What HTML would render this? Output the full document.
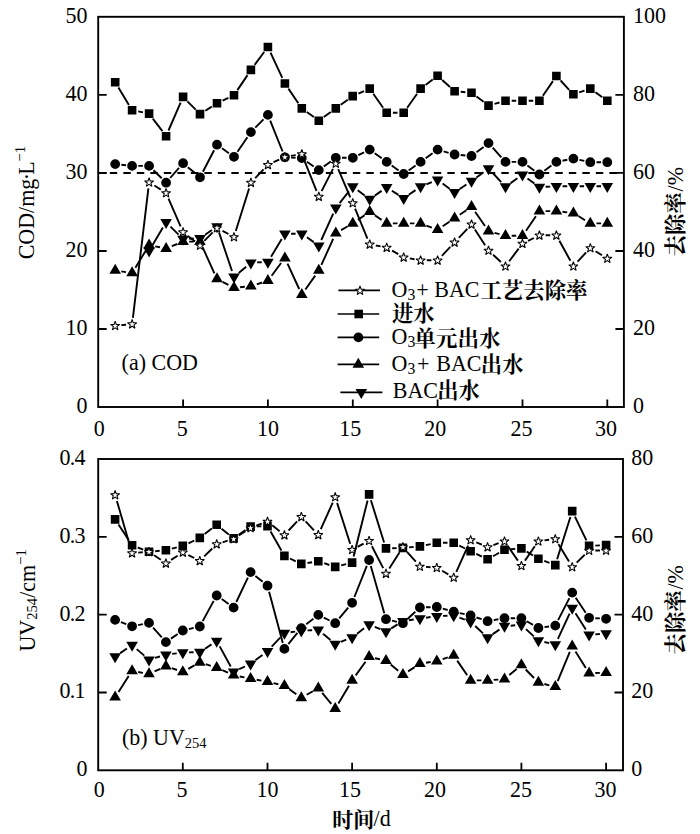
<!DOCTYPE html>
<html><head><meta charset="utf-8"><title>COD and UV254 removal</title>
<style>
html,body{margin:0;padding:0;background:#fff}
svg{display:block}
text{font-family:"Liberation Serif","Noto Serif CJK SC",serif;fill:#000}
</style></head><body>
<svg width="700" height="834" viewBox="0 0 700 834">
<rect width="700" height="834" fill="#fff"/>
<rect x="98.2" y="16.8" width="525.7" height="390.2" fill="none" stroke="#000" stroke-width="1.90"/>
<rect x="98.2" y="459.0" width="524.8" height="311.3" fill="none" stroke="#000" stroke-width="1.90"/>
<path d="M98.2 94.8h8.5M623.9 94.8h-8.5M98.2 172.9h8.5M623.9 172.9h-8.5M98.2 251.0h8.5M623.9 251.0h-8.5M98.2 329.0h8.5M623.9 329.0h-8.5M183.1 407.1v-7.5M267.9 407.1v-7.5M352.8 407.1v-7.5M437.6 407.1v-7.5M522.5 407.1v-7.5M607.3 407.1v-7.5" fill="none" stroke="#000" stroke-width="1.8"/>
<path d="M98.2 536.8h8.5M623.0 536.8h-8.5M98.2 614.6h8.5M623.0 614.6h-8.5M98.2 692.5h8.5M623.0 692.5h-8.5M182.8 770.3v-7.5M267.5 770.3v-7.5M352.1 770.3v-7.5M436.8 770.3v-7.5M521.4 770.3v-7.5M606.1 770.3v-7.5" fill="none" stroke="#000" stroke-width="1.8"/>
<path d="M98.2 173.1H106.4M109.85 173.1h7.4M123.35 173.1h7.4M136.85 173.1h7.4M150.35 173.1h7.4M163.85 173.1h7.4M177.35 173.1h7.4M190.85 173.1h7.4M204.35 173.1h7.4M217.85 173.1h7.4M231.35 173.1h7.4M244.85 173.1h7.4M258.35 173.1h7.4M271.85 173.1h7.4M285.35 173.1h7.4M298.85 173.1h7.4M312.35 173.1h7.4M325.85 173.1h7.4M339.35 173.1h7.4M352.85 173.1h7.4M366.35 173.1h7.4M379.85 173.1h7.4M393.35 173.1h7.4M406.85 173.1h7.4M420.35 173.1h7.4M433.85 173.1h7.4M447.35 173.1h7.4M460.85 173.1h7.4M474.35 173.1h7.4M487.85 173.1h7.4M501.35 173.1h7.4M514.85 173.1h7.4M528.35 173.1h7.4M541.85 173.1h7.4M555.35 173.1h7.4M568.85 173.1h7.4M582.35 173.1h7.4M595.85 173.1h7.4M609.35 173.1h7.4" fill="none" stroke="#000" stroke-width="2"/>
<path d="M118.4 87.5L128.9 104.9M138.2 111.4L143.0 112.4M152.8 118.6L162.4 131.2M168.5 130.5L180.6 102.6M187.4 101.3L195.7 109.7M205.3 110.8L211.8 106.6M222.6 100.7L228.4 97.9M237.4 90.1L247.5 75.1M254.6 64.9L264.2 52.0M270.5 52.6L282.3 77.9M288.4 88.6L298.3 103.3M306.8 112.1L313.8 117.1M323.8 117.1L330.8 112.1M340.8 104.8L347.7 99.7M358.4 93.6L364.0 91.1M373.3 93.7L383.1 107.7M392.9 112.8L397.5 112.8M407.2 107.7L417.1 93.7M425.6 84.9L432.7 79.5M442.2 80.0L450.0 87.0M460.7 91.7L465.4 92.2M476.5 96.5L483.6 101.8M494.5 103.9L499.5 102.5M511.7 100.8L516.2 100.8M528.7 100.8L533.2 100.8M542.9 95.7L552.9 81.1M560.6 80.5L569.1 89.8M579.2 92.3L584.5 90.6M595.4 92.2L602.3 97.2" fill="none" stroke="#000" stroke-width="1.90"/>
<path d="M110.9 77.9h8.6v8.6h-8.6zM127.8 105.9h8.6v8.6h-8.6zM144.8 109.3h8.6v8.6h-8.6zM161.8 131.9h8.6v8.6h-8.6zM178.8 92.6h8.6v8.6h-8.6zM195.7 109.8h8.6v8.6h-8.6zM212.7 99.0h8.6v8.6h-8.6zM229.7 91.0h8.6v8.6h-8.6zM246.6 65.6h8.6v8.6h-8.6zM263.6 42.7h8.6v8.6h-8.6zM280.6 79.2h8.6v8.6h-8.6zM297.5 104.1h8.6v8.6h-8.6zM314.5 116.5h8.6v8.6h-8.6zM331.5 104.1h8.6v8.6h-8.6zM348.4 91.8h8.6v8.6h-8.6zM365.4 84.3h8.6v8.6h-8.6zM382.4 108.5h8.6v8.6h-8.6zM399.4 108.5h8.6v8.6h-8.6zM416.3 84.3h8.6v8.6h-8.6zM433.3 71.5h8.6v8.6h-8.6zM450.3 86.9h8.6v8.6h-8.6zM467.2 88.4h8.6v8.6h-8.6zM484.2 101.3h8.6v8.6h-8.6zM501.2 96.5h8.6v8.6h-8.6zM518.2 96.5h8.6v8.6h-8.6zM535.1 96.5h8.6v8.6h-8.6zM552.1 71.7h8.6v8.6h-8.6zM569.1 90.0h8.6v8.6h-8.6zM586.0 84.3h8.6v8.6h-8.6zM603.0 96.5h8.6v8.6h-8.6z" fill="#000"/>
<path d="M121.3 164.8L126.0 165.2M138.3 165.9L142.9 165.9M153.5 170.3L161.7 178.3M170.2 178.0L179.0 167.9M187.8 167.2L195.3 173.3M202.9 171.8L214.1 150.2M222.0 148.3L228.9 153.2M237.5 151.7L247.4 137.2M255.3 127.7L263.5 119.3M270.2 120.7L282.6 151.5M291.1 157.6L295.6 157.8M306.9 161.7L313.7 166.5M323.8 166.5L330.8 161.4M342.0 157.8L346.6 157.8M358.3 155.1L364.1 152.3M374.7 153.2L381.7 158.3M391.7 165.5L398.6 170.4M408.7 170.4L415.6 165.5M425.7 158.3L432.6 153.2M443.6 151.3L448.6 152.8M460.7 155.0L465.4 155.5M476.5 152.2L483.6 146.9M492.7 147.7L501.3 157.3M511.7 161.9L516.2 161.9M527.4 165.6L534.4 170.8M544.4 170.8L551.4 165.6M562.5 160.7L567.3 159.8M579.4 159.9L584.3 160.9M596.5 162.2L601.1 162.2" fill="none" stroke="#000" stroke-width="1.90"/>
<path d="M110.3 164.1a4.9 4.9 0 1 0 9.8 0a4.9 4.9 0 1 0 -9.8 0zM127.2 165.9a4.9 4.9 0 1 0 9.8 0a4.9 4.9 0 1 0 -9.8 0zM144.2 165.9a4.9 4.9 0 1 0 9.8 0a4.9 4.9 0 1 0 -9.8 0zM161.2 182.7a4.9 4.9 0 1 0 9.8 0a4.9 4.9 0 1 0 -9.8 0zM178.2 163.2a4.9 4.9 0 1 0 9.8 0a4.9 4.9 0 1 0 -9.8 0zM195.1 177.3a4.9 4.9 0 1 0 9.8 0a4.9 4.9 0 1 0 -9.8 0zM212.1 144.7a4.9 4.9 0 1 0 9.8 0a4.9 4.9 0 1 0 -9.8 0zM229.1 156.8a4.9 4.9 0 1 0 9.8 0a4.9 4.9 0 1 0 -9.8 0zM246.0 132.1a4.9 4.9 0 1 0 9.8 0a4.9 4.9 0 1 0 -9.8 0zM263.0 114.9a4.9 4.9 0 1 0 9.8 0a4.9 4.9 0 1 0 -9.8 0zM280.0 157.3a4.9 4.9 0 1 0 9.8 0a4.9 4.9 0 1 0 -9.8 0zM296.9 158.1a4.9 4.9 0 1 0 9.8 0a4.9 4.9 0 1 0 -9.8 0zM313.9 170.1a4.9 4.9 0 1 0 9.8 0a4.9 4.9 0 1 0 -9.8 0zM330.9 157.8a4.9 4.9 0 1 0 9.8 0a4.9 4.9 0 1 0 -9.8 0zM347.9 157.8a4.9 4.9 0 1 0 9.8 0a4.9 4.9 0 1 0 -9.8 0zM364.8 149.6a4.9 4.9 0 1 0 9.8 0a4.9 4.9 0 1 0 -9.8 0zM381.8 161.9a4.9 4.9 0 1 0 9.8 0a4.9 4.9 0 1 0 -9.8 0zM398.8 174.0a4.9 4.9 0 1 0 9.8 0a4.9 4.9 0 1 0 -9.8 0zM415.7 161.9a4.9 4.9 0 1 0 9.8 0a4.9 4.9 0 1 0 -9.8 0zM432.7 149.6a4.9 4.9 0 1 0 9.8 0a4.9 4.9 0 1 0 -9.8 0zM449.7 154.5a4.9 4.9 0 1 0 9.8 0a4.9 4.9 0 1 0 -9.8 0zM466.6 156.0a4.9 4.9 0 1 0 9.8 0a4.9 4.9 0 1 0 -9.8 0zM483.6 143.1a4.9 4.9 0 1 0 9.8 0a4.9 4.9 0 1 0 -9.8 0zM500.6 161.9a4.9 4.9 0 1 0 9.8 0a4.9 4.9 0 1 0 -9.8 0zM517.6 161.9a4.9 4.9 0 1 0 9.8 0a4.9 4.9 0 1 0 -9.8 0zM534.5 174.5a4.9 4.9 0 1 0 9.8 0a4.9 4.9 0 1 0 -9.8 0zM551.5 161.9a4.9 4.9 0 1 0 9.8 0a4.9 4.9 0 1 0 -9.8 0zM568.5 158.6a4.9 4.9 0 1 0 9.8 0a4.9 4.9 0 1 0 -9.8 0zM585.4 162.2a4.9 4.9 0 1 0 9.8 0a4.9 4.9 0 1 0 -9.8 0zM602.4 162.2a4.9 4.9 0 1 0 9.8 0a4.9 4.9 0 1 0 -9.8 0z" fill="#000"/>
<path d="M121.3 271.4L126.0 272.1M135.4 267.7L145.9 250.4M155.2 246.4L160.0 247.3M171.8 246.2L177.3 244.0M189.2 241.6L193.8 241.6M202.6 247.2L214.4 273.4M222.5 281.8L228.4 284.9M240.1 287.2L244.8 286.7M256.8 284.3L262.0 282.5M271.6 275.7L281.1 263.0M287.5 263.7L299.2 289.0M305.4 289.5L315.2 275.6M321.4 264.9L333.2 238.8M341.1 230.1L347.4 226.5M357.9 219.9L364.6 215.2M374.8 215.2L381.6 219.9M392.9 223.4L397.5 223.4M409.9 223.4L414.4 223.4M426.4 225.6L431.8 227.6M442.7 226.3L449.4 221.8M459.7 214.8L466.4 210.2M475.1 211.8L485.0 226.0M494.5 232.8L499.5 234.1M511.7 235.8L516.2 235.8M526.0 230.7L535.9 216.2M545.6 211.1L550.2 211.1M562.5 211.8L567.2 212.4M578.7 216.3L585.0 220.2M596.5 223.4L601.1 223.4" fill="none" stroke="#000" stroke-width="1.90"/>
<path d="M115.2 263.8L121.0 273.8L109.4 273.8zM132.1 266.3L137.9 276.3L126.3 276.3zM149.1 238.4L154.9 248.4L143.3 248.4zM166.1 241.9L171.9 251.9L160.3 251.9zM183.1 234.9L188.9 244.9L177.2 244.9zM200.0 234.9L205.8 244.9L194.2 244.9zM217.0 272.3L222.8 282.3L211.2 282.3zM234.0 281.0L239.8 291.0L228.2 291.0zM250.9 279.5L256.7 289.5L245.1 289.5zM267.9 273.9L273.7 283.9L262.1 283.9zM284.9 251.4L290.7 261.4L279.1 261.4zM301.8 287.9L307.6 297.9L296.0 297.9zM318.8 263.8L324.6 273.8L313.0 273.8zM335.8 226.5L341.6 236.5L330.0 236.5zM352.8 216.7L358.6 226.7L346.9 226.7zM369.7 205.0L375.5 215.0L363.9 215.0zM386.7 216.7L392.5 226.7L380.9 226.7zM403.7 216.7L409.5 226.7L397.9 226.7zM420.6 216.7L426.4 226.7L414.8 226.7zM437.6 223.1L443.4 233.1L431.8 233.1zM454.6 211.6L460.4 221.6L448.8 221.6zM471.5 200.0L477.3 210.0L465.7 210.0zM488.5 224.4L494.3 234.4L482.7 234.4zM505.5 229.1L511.3 239.1L499.7 239.1zM522.5 229.1L528.2 239.1L516.7 239.1zM539.4 204.4L545.2 214.4L533.6 214.4zM556.4 204.4L562.2 214.4L550.6 214.4zM573.4 206.4L579.2 216.4L567.6 216.4zM590.3 216.7L596.1 226.7L584.5 226.7zM607.3 216.7L613.1 226.7L601.5 226.7z" fill="#000"/>
<path d="M152.3 245.4L162.9 227.5M170.5 226.6L178.6 234.6M189.2 238.7L193.8 238.5M205.1 234.7L211.9 230.0M219.0 232.4L232.0 271.0M238.7 272.9L246.2 266.7M257.1 262.4L261.7 262.3M271.1 256.7L281.7 239.0M291.1 233.7L295.6 233.7M306.9 237.3L313.7 242.1M321.3 240.0L333.2 213.6M339.6 203.1L348.9 191.4M357.7 190.3L364.7 195.4M374.8 195.6L381.6 190.9M391.9 190.7L398.4 194.9M408.8 194.7L415.5 190.1M426.4 184.3L431.8 182.2M442.6 183.6L449.6 188.7M459.7 189.0L466.4 184.5M476.5 177.4L483.5 172.2M492.8 173.0L501.2 182.1M510.6 183.1L517.4 178.3M527.5 178.4L534.4 183.5M545.6 186.8L550.2 186.6M562.6 186.3L567.2 186.3M579.6 186.3L584.1 186.3M596.5 186.3L601.1 186.3" fill="none" stroke="#000" stroke-width="1.90"/>
<path d="M149.1 257.4L154.9 247.4L143.3 247.4zM166.1 228.9L171.9 218.9L160.3 218.9zM183.1 245.7L188.9 235.7L177.2 235.7zM200.0 244.9L205.8 234.9L194.2 234.9zM217.0 233.2L222.8 223.2L211.2 223.2zM234.0 283.6L239.8 273.6L228.2 273.6zM250.9 269.4L256.7 259.4L245.1 259.4zM267.9 268.7L273.7 258.7L262.1 258.7zM284.9 240.4L290.7 230.4L279.1 230.4zM301.8 240.4L307.6 230.4L296.0 230.4zM318.8 252.4L324.6 242.4L313.0 242.4zM335.8 214.6L341.6 204.6L330.0 204.6zM352.8 193.3L358.6 183.3L346.9 183.3zM369.7 205.8L375.5 195.8L363.9 195.8zM386.7 194.1L392.5 184.1L380.9 184.1zM403.7 204.9L409.5 194.9L397.9 194.9zM420.6 193.3L426.4 183.3L414.8 183.3zM437.6 186.6L443.4 176.6L431.8 176.6zM454.6 199.1L460.4 189.1L448.8 189.1zM471.5 187.8L477.3 177.8L465.7 177.8zM488.5 175.2L494.3 165.2L482.7 165.2zM505.5 193.3L511.3 183.3L499.7 183.3zM522.5 181.5L528.2 171.5L516.7 171.5zM539.4 193.8L545.2 183.8L533.6 183.8zM556.4 193.0L562.2 183.0L550.6 183.0zM573.4 193.0L579.2 183.0L567.6 183.0zM590.3 193.0L596.1 183.0L584.5 183.0zM607.3 193.0L613.1 183.0L601.5 183.0z" fill="#000"/>
<path d="M121.3 325.1L126.0 324.7M132.9 317.9L148.4 188.4M154.4 185.5L160.8 189.6M168.5 198.6L180.6 226.4M187.9 235.9L195.1 241.6M204.3 240.9L212.7 232.4M222.5 230.8L228.5 234.0M235.8 231.0L249.1 188.5M255.2 178.1L263.6 169.3M273.5 162.2L279.2 159.6M291.0 155.9L295.7 155.1M304.1 159.8L316.5 190.8M321.6 191.1L333.0 168.9M338.2 169.1L350.3 197.3M355.1 208.7L367.4 238.6M375.8 245.5L380.6 246.4M392.1 250.7L398.3 254.2M409.8 258.4L414.5 259.2M426.8 260.3L431.4 260.3M441.9 255.8L450.3 246.8M458.8 237.8L467.3 228.8M474.9 229.5L485.1 245.3M493.1 254.7L500.9 262.0M509.2 261.2L518.7 248.6M528.0 240.9L533.9 238.0M545.6 235.3L550.2 235.3M559.4 240.7L570.4 260.8M577.6 261.7L586.1 252.4M595.6 251.2L602.0 255.2" fill="none" stroke="#000" stroke-width="1.90"/>
<path d="M115.17 321.10L116.29 324.41L119.78 324.45L116.98 326.54L118.02 329.87L115.17 327.85L112.32 329.87L113.36 326.54L110.56 324.45L114.05 324.41zM132.14 319.50L133.26 322.81L136.75 322.85L133.95 324.94L134.99 328.27L132.14 326.25L129.29 328.27L130.33 324.94L127.53 322.85L131.02 322.81zM149.11 177.60L150.23 180.91L153.72 180.95L150.92 183.04L151.96 186.37L149.11 184.35L146.26 186.37L147.30 183.04L144.50 180.95L147.99 180.91zM166.08 188.30L167.20 191.61L170.69 191.65L167.89 193.74L168.93 197.07L166.08 195.05L163.23 197.07L164.27 193.74L161.47 191.65L164.96 191.61zM183.05 227.50L184.17 230.81L187.66 230.85L184.86 232.94L185.90 236.27L183.05 234.25L180.20 236.27L181.24 232.94L178.44 230.85L181.93 230.81zM200.02 240.80L201.14 244.11L204.63 244.15L201.83 246.24L202.87 249.57L200.02 247.55L197.17 249.57L198.21 246.24L195.41 244.15L198.90 244.11zM216.99 223.30L218.11 226.61L221.60 226.65L218.80 228.74L219.84 232.07L216.99 230.05L214.14 232.07L215.18 228.74L212.38 226.65L215.87 226.61zM233.96 232.30L235.08 235.61L238.57 235.65L235.77 237.74L236.81 241.07L233.96 239.05L231.11 241.07L232.15 237.74L229.35 235.65L232.84 235.61zM250.93 178.00L252.05 181.31L255.54 181.35L252.74 183.44L253.78 186.77L250.93 184.75L248.08 186.77L249.12 183.44L246.32 181.35L249.81 181.31zM267.90 160.20L269.02 163.51L272.51 163.55L269.71 165.64L270.75 168.97L267.90 166.95L265.05 168.97L266.09 165.64L263.29 163.55L266.78 163.51zM284.87 152.40L285.99 155.71L289.48 155.75L286.68 157.84L287.72 161.17L284.87 159.15L282.02 161.17L283.06 157.84L280.26 155.75L283.75 155.71zM301.84 149.40L302.96 152.71L306.45 152.75L303.65 154.84L304.69 158.17L301.84 156.15L298.99 158.17L300.03 154.84L297.23 152.75L300.72 152.71zM318.81 192.00L319.93 195.31L323.42 195.35L320.62 197.44L321.66 200.77L318.81 198.75L315.96 200.77L317.00 197.44L314.20 195.35L317.69 195.31zM335.78 158.80L336.90 162.11L340.39 162.15L337.59 164.24L338.63 167.57L335.78 165.55L332.93 167.57L333.97 164.24L331.17 162.15L334.66 162.11zM352.75 198.40L353.87 201.71L357.36 201.75L354.56 203.84L355.60 207.17L352.75 205.15L349.90 207.17L350.94 203.84L348.14 201.75L351.63 201.71zM369.72 239.70L370.84 243.01L374.33 243.05L371.53 245.14L372.57 248.47L369.72 246.45L366.87 248.47L367.91 245.14L365.11 243.05L368.60 243.01zM386.69 243.00L387.81 246.31L391.30 246.35L388.50 248.44L389.54 251.77L386.69 249.75L383.84 251.77L384.88 248.44L382.08 246.35L385.57 246.31zM403.66 252.70L404.78 256.01L408.27 256.05L405.47 258.14L406.51 261.47L403.66 259.45L400.81 261.47L401.85 258.14L399.05 256.05L402.54 256.01zM420.63 255.70L421.75 259.01L425.24 259.05L422.44 261.14L423.48 264.47L420.63 262.45L417.78 264.47L418.82 261.14L416.02 259.05L419.51 259.01zM437.60 255.70L438.72 259.01L442.21 259.05L439.41 261.14L440.45 264.47L437.60 262.45L434.75 264.47L435.79 261.14L432.99 259.05L436.48 259.01zM454.57 237.70L455.69 241.01L459.18 241.05L456.38 243.14L457.42 246.47L454.57 244.45L451.72 246.47L452.76 243.14L449.96 241.05L453.45 241.01zM471.54 219.70L472.66 223.01L476.15 223.05L473.35 225.14L474.39 228.47L471.54 226.45L468.69 228.47L469.73 225.14L466.93 223.05L470.42 223.01zM488.51 245.90L489.63 249.21L493.12 249.25L490.32 251.34L491.36 254.67L488.51 252.65L485.66 254.67L486.70 251.34L483.90 249.25L487.39 249.21zM505.48 261.60L506.60 264.91L510.09 264.95L507.29 267.04L508.33 270.37L505.48 268.35L502.63 270.37L503.67 267.04L500.87 264.95L504.36 264.91zM522.45 239.00L523.57 242.31L527.06 242.35L524.26 244.44L525.30 247.77L522.45 245.75L519.60 247.77L520.64 244.44L517.84 242.35L521.33 242.31zM539.42 230.70L540.54 234.01L544.03 234.05L541.23 236.14L542.27 239.47L539.42 237.45L536.57 239.47L537.61 236.14L534.81 234.05L538.30 234.01zM556.39 230.70L557.51 234.01L561.00 234.05L558.20 236.14L559.24 239.47L556.39 237.45L553.54 239.47L554.58 236.14L551.78 234.05L555.27 234.01zM573.36 261.60L574.48 264.91L577.97 264.95L575.17 267.04L576.21 270.37L573.36 268.35L570.51 270.37L571.55 267.04L568.75 264.95L572.24 264.91zM590.33 243.30L591.45 246.61L594.94 246.65L592.14 248.74L593.18 252.07L590.33 250.05L587.48 252.07L588.52 248.74L585.72 246.65L589.21 246.61zM607.30 253.90L608.42 257.21L611.91 257.25L609.11 259.34L610.15 262.67L607.30 260.65L604.45 262.67L605.49 259.34L602.69 257.25L606.18 257.21z" fill="#fff" stroke="#000" stroke-width="1.05" stroke-linejoin="miter" stroke-miterlimit="1.6"/>
<path d="M118.5 524.6L128.7 540.1M137.8 547.5L143.2 549.6M155.2 551.2L159.7 550.8M171.9 548.7L176.8 547.4M188.5 543.3L194.2 540.5M204.7 534.1L211.8 528.6M221.5 528.7L228.8 534.5M238.7 534.9L245.5 530.1M256.8 526.4L261.3 526.3M270.6 531.5L281.4 550.5M290.0 558.5L295.7 561.3M307.5 563.0L312.1 562.2M324.2 563.2L329.3 565.0M341.2 565.4L346.1 564.1M353.6 556.6L367.6 500.4M370.9 500.3L384.1 542.5M392.2 548.2L396.7 548.1M409.1 547.4L413.7 546.9M425.9 545.1L430.7 544.1M443.0 542.8L447.5 542.8M459.3 545.6L465.1 548.5M476.3 553.9L481.9 556.6M493.0 556.2L499.1 552.7M510.7 549.2L515.2 548.9M526.7 551.6L533.1 555.5M544.2 560.9L549.5 562.9M557.1 559.2L570.4 517.0M574.9 516.7L586.4 540.3M595.3 545.6L599.9 545.4" fill="none" stroke="#000" stroke-width="1.90"/>
<path d="M110.8 515.1h8.6v8.6h-8.6zM127.8 541.0h8.6v8.6h-8.6zM144.7 547.5h8.6v8.6h-8.6zM161.6 545.9h8.6v8.6h-8.6zM178.5 541.6h8.6v8.6h-8.6zM195.5 533.6h8.6v8.6h-8.6zM212.4 520.5h8.6v8.6h-8.6zM229.3 534.1h8.6v8.6h-8.6zM246.3 522.3h8.6v8.6h-8.6zM263.2 521.8h8.6v8.6h-8.6zM280.1 551.6h8.6v8.6h-8.6zM297.0 559.6h8.6v8.6h-8.6zM314.0 557.0h8.6v8.6h-8.6zM330.9 562.6h8.6v8.6h-8.6zM347.8 558.3h8.6v8.6h-8.6zM364.8 490.1h8.6v8.6h-8.6zM381.7 544.1h8.6v8.6h-8.6zM398.6 543.6h8.6v8.6h-8.6zM415.6 542.1h8.6v8.6h-8.6zM432.5 538.5h8.6v8.6h-8.6zM449.4 538.5h8.6v8.6h-8.6zM466.3 547.0h8.6v8.6h-8.6zM483.3 554.9h8.6v8.6h-8.6zM500.2 545.4h8.6v8.6h-8.6zM517.1 544.1h8.6v8.6h-8.6zM534.1 554.4h8.6v8.6h-8.6zM551.0 560.8h8.6v8.6h-8.6zM567.9 506.8h8.6v8.6h-8.6zM584.8 541.6h8.6v8.6h-8.6zM601.8 540.8h8.6v8.6h-8.6z" fill="#000"/>
<path d="M120.9 622.1L126.3 624.1M138.1 625.1L142.9 624.1M153.1 627.6L161.8 637.4M171.0 638.6L177.7 634.0M188.9 629.1L193.7 627.9M202.7 621.1L213.7 600.9M221.7 599.1L228.6 604.0M236.3 602.0L247.9 577.7M255.4 576.0L262.7 581.8M269.1 591.7L282.8 642.9M288.3 644.1L297.4 632.9M306.2 624.3L313.4 618.7M323.8 617.6L329.6 620.5M339.2 618.4L348.2 607.6M354.4 597.0L366.8 565.8M370.8 566.0L384.3 613.2M392.0 620.6L396.9 621.8M407.5 619.0L415.3 611.7M426.0 607.3L430.6 607.2M442.8 608.7L447.7 610.0M459.8 613.1L464.6 614.1M476.5 617.5L481.7 619.2M493.7 620.1L498.4 619.3M510.7 618.2L515.2 618.2M526.8 621.3L533.0 624.9M544.5 627.1L549.1 626.5M558.1 620.1L569.4 598.1M575.7 597.7L585.7 612.7M595.3 618.2L599.9 618.4" fill="none" stroke="#000" stroke-width="1.90"/>
<path d="M110.2 619.9a4.9 4.9 0 1 0 9.8 0a4.9 4.9 0 1 0 -9.8 0zM127.2 626.3a4.9 4.9 0 1 0 9.8 0a4.9 4.9 0 1 0 -9.8 0zM144.1 622.9a4.9 4.9 0 1 0 9.8 0a4.9 4.9 0 1 0 -9.8 0zM161.0 642.1a4.9 4.9 0 1 0 9.8 0a4.9 4.9 0 1 0 -9.8 0zM177.9 630.5a4.9 4.9 0 1 0 9.8 0a4.9 4.9 0 1 0 -9.8 0zM194.9 626.5a4.9 4.9 0 1 0 9.8 0a4.9 4.9 0 1 0 -9.8 0zM211.8 595.5a4.9 4.9 0 1 0 9.8 0a4.9 4.9 0 1 0 -9.8 0zM228.7 607.6a4.9 4.9 0 1 0 9.8 0a4.9 4.9 0 1 0 -9.8 0zM245.7 572.1a4.9 4.9 0 1 0 9.8 0a4.9 4.9 0 1 0 -9.8 0zM262.6 585.7a4.9 4.9 0 1 0 9.8 0a4.9 4.9 0 1 0 -9.8 0zM279.5 648.9a4.9 4.9 0 1 0 9.8 0a4.9 4.9 0 1 0 -9.8 0zM296.4 628.1a4.9 4.9 0 1 0 9.8 0a4.9 4.9 0 1 0 -9.8 0zM313.4 614.9a4.9 4.9 0 1 0 9.8 0a4.9 4.9 0 1 0 -9.8 0zM330.3 623.2a4.9 4.9 0 1 0 9.8 0a4.9 4.9 0 1 0 -9.8 0zM347.2 602.8a4.9 4.9 0 1 0 9.8 0a4.9 4.9 0 1 0 -9.8 0zM364.2 560.0a4.9 4.9 0 1 0 9.8 0a4.9 4.9 0 1 0 -9.8 0zM381.1 619.2a4.9 4.9 0 1 0 9.8 0a4.9 4.9 0 1 0 -9.8 0zM398.0 623.2a4.9 4.9 0 1 0 9.8 0a4.9 4.9 0 1 0 -9.8 0zM415.0 607.5a4.9 4.9 0 1 0 9.8 0a4.9 4.9 0 1 0 -9.8 0zM431.9 607.0a4.9 4.9 0 1 0 9.8 0a4.9 4.9 0 1 0 -9.8 0zM448.8 611.7a4.9 4.9 0 1 0 9.8 0a4.9 4.9 0 1 0 -9.8 0zM465.7 615.5a4.9 4.9 0 1 0 9.8 0a4.9 4.9 0 1 0 -9.8 0zM482.7 621.2a4.9 4.9 0 1 0 9.8 0a4.9 4.9 0 1 0 -9.8 0zM499.6 618.2a4.9 4.9 0 1 0 9.8 0a4.9 4.9 0 1 0 -9.8 0zM516.5 618.2a4.9 4.9 0 1 0 9.8 0a4.9 4.9 0 1 0 -9.8 0zM533.5 628.0a4.9 4.9 0 1 0 9.8 0a4.9 4.9 0 1 0 -9.8 0zM550.4 625.6a4.9 4.9 0 1 0 9.8 0a4.9 4.9 0 1 0 -9.8 0zM567.3 592.6a4.9 4.9 0 1 0 9.8 0a4.9 4.9 0 1 0 -9.8 0zM584.2 617.8a4.9 4.9 0 1 0 9.8 0a4.9 4.9 0 1 0 -9.8 0zM601.2 618.8a4.9 4.9 0 1 0 9.8 0a4.9 4.9 0 1 0 -9.8 0z" fill="#000"/>
<path d="M118.5 691.9L128.7 676.1M138.2 672.0L142.9 672.9M154.6 671.4L160.3 668.9M171.8 668.2L177.0 670.0M188.3 668.9L194.4 665.4M205.7 664.2L210.8 665.8M222.3 670.2L228.0 672.7M239.7 676.5L244.5 677.4M256.7 679.7L261.4 680.6M273.5 683.1L278.4 684.2M289.4 689.2L296.3 694.3M306.7 694.8L312.9 691.2M322.2 692.9L331.3 703.9M338.4 703.4L349.0 685.7M355.7 675.4L365.5 661.8M375.1 658.2L379.9 659.2M390.7 664.6L398.2 670.8M408.1 671.4L414.7 667.1M426.0 662.8L430.7 662.0M442.7 659.2L447.8 657.4M457.2 660.6L467.2 675.3M476.8 680.4L481.4 680.4M493.7 679.9L498.3 679.6M509.3 675.1L516.7 669.0M525.7 669.5L534.0 678.0M544.4 684.0L549.3 685.3M557.7 681.1L569.8 651.9M575.5 651.5L585.8 667.9M595.3 673.0L599.9 672.9" fill="none" stroke="#000" stroke-width="1.90"/>
<path d="M115.1 690.4L120.9 700.4L109.3 700.4zM132.1 664.2L137.9 674.2L126.3 674.2zM149.0 667.3L154.8 677.3L143.2 677.3zM165.9 659.6L171.7 669.6L160.1 669.6zM182.8 665.2L188.6 675.2L177.0 675.2zM199.8 655.7L205.6 665.7L194.0 665.7zM216.7 660.9L222.5 670.9L210.9 670.9zM233.6 668.6L239.4 678.6L227.8 678.6zM250.6 671.9L256.4 681.9L244.8 681.9zM267.5 675.0L273.3 685.0L261.7 685.0zM284.4 678.9L290.2 688.9L278.6 688.9zM301.3 691.2L307.1 701.2L295.5 701.2zM318.3 681.4L324.1 691.4L312.5 691.4zM335.2 702.0L341.0 712.0L329.4 712.0zM352.1 673.7L357.9 683.7L346.3 683.7zM369.1 650.1L374.9 660.1L363.3 660.1zM386.0 653.9L391.8 663.9L380.2 663.9zM402.9 668.1L408.7 678.1L397.1 678.1zM419.9 657.0L425.7 667.0L414.1 667.0zM436.8 654.4L442.6 664.4L431.0 664.4zM453.7 648.8L459.5 658.8L447.9 658.8zM470.6 673.7L476.4 683.7L464.8 683.7zM487.6 673.7L493.4 683.7L481.8 683.7zM504.5 672.4L510.3 682.4L498.7 682.4zM521.4 658.3L527.2 668.3L515.6 668.3zM538.4 675.8L544.2 685.8L532.6 685.8zM555.3 680.1L561.1 690.1L549.5 690.1zM572.2 639.5L578.0 649.5L566.4 649.5zM589.1 666.5L594.9 676.5L583.3 676.5zM606.1 666.0L611.9 676.0L600.3 676.0z" fill="#000"/>
<path d="M120.2 653.1L126.9 648.5M136.7 649.1L144.3 655.6M154.9 657.9L160.0 656.5M172.1 653.9L176.7 653.4M189.0 652.4L193.6 652.3M205.0 648.7L211.5 644.4M219.7 646.4L230.7 666.5M239.2 669.2L245.0 666.5M255.5 660.1L262.5 655.0M271.7 646.7L280.2 637.6M290.6 632.2L295.2 631.6M307.5 630.4L312.1 630.2M323.0 633.8L330.5 640.0M341.0 641.8L346.3 639.7M357.1 633.7L364.1 628.3M374.8 626.9L380.3 629.2M391.3 628.4L397.6 624.4M409.0 620.2L413.7 619.5M426.0 617.7L430.6 617.0M443.0 615.9L447.5 615.8M459.5 617.7L464.8 619.6M475.2 626.0L483.0 633.4M492.7 634.1L499.4 629.6M510.7 625.7L515.2 625.3M526.0 629.1L533.8 636.4M544.4 642.0L549.2 643.1M557.9 638.9L569.6 613.7M575.5 613.3L585.8 629.6M595.3 634.4L599.9 634.0" fill="none" stroke="#000" stroke-width="1.90"/>
<path d="M115.1 663.3L120.9 653.3L109.3 653.3zM132.1 651.7L137.9 641.7L126.3 641.7zM149.0 666.4L154.8 656.4L143.2 656.4zM165.9 661.4L171.7 651.4L160.1 651.4zM182.8 659.3L188.6 649.3L177.0 649.3zM199.8 658.8L205.6 648.8L194.0 648.8zM216.7 647.7L222.5 637.7L210.9 637.7zM233.6 678.6L239.4 668.6L227.8 668.6zM250.6 670.5L256.4 660.5L244.8 660.5zM267.5 658.0L273.3 648.0L261.7 648.0zM284.4 639.7L290.2 629.7L278.6 629.7zM301.3 637.5L307.1 627.5L295.5 627.5zM318.3 636.5L324.1 626.5L312.5 626.5zM335.2 650.7L341.0 640.7L329.4 640.7zM352.1 644.2L357.9 634.2L346.3 634.2zM369.1 631.2L374.9 621.2L363.3 621.2zM386.0 638.3L391.8 628.3L380.2 628.3zM402.9 627.9L408.7 617.9L397.1 617.9zM419.9 625.2L425.7 615.2L414.1 615.2zM436.8 622.9L442.6 612.9L431.0 612.9zM453.7 622.2L459.5 612.2L447.9 612.2zM470.6 628.5L476.4 618.5L464.8 618.5zM487.6 644.3L493.4 634.3L481.8 634.3zM504.5 632.8L510.3 622.8L498.7 622.8zM521.4 631.6L527.2 621.6L515.6 621.6zM538.4 647.3L544.2 637.3L532.6 637.3zM555.3 651.2L561.1 641.2L549.5 641.2zM572.2 614.8L578.0 604.8L566.4 604.8zM589.1 641.5L594.9 631.5L583.3 631.5zM606.1 640.3L611.9 630.3L600.3 630.3z" fill="#000"/>
<path d="M116.9 500.9L130.3 547.1M138.2 552.6L142.8 552.3M154.1 555.3L160.8 559.8M171.1 559.9L177.6 555.7M188.4 555.1L194.2 558.0M204.2 556.4L212.3 548.5M222.6 542.3L227.7 540.7M238.8 535.5L245.4 531.3M256.3 525.7L261.7 523.6M272.3 525.3L279.6 531.2M288.6 530.5L297.1 521.4M305.6 521.3L314.0 530.3M320.8 529.1L332.7 502.7M337.1 502.9L350.2 543.8M357.6 546.8L363.6 543.6M371.9 546.2L383.2 568.1M389.3 568.4L399.6 552.3M407.0 551.8L415.8 561.7M426.0 566.9L430.6 567.2M442.1 570.8L448.3 574.4M456.3 571.8L468.1 545.6M476.3 542.3L481.9 544.7M493.4 545.1L498.6 543.2M508.0 546.3L517.9 560.6M525.0 560.6L534.8 546.3M544.5 540.4L549.1 539.7M558.5 544.2L569.0 561.6M576.7 562.6L584.7 554.8M595.3 550.5L599.9 550.5" fill="none" stroke="#000" stroke-width="1.90"/>
<path d="M115.13 490.30L116.25 493.61L119.74 493.65L116.94 495.74L117.98 499.07L115.13 497.05L112.28 499.07L113.32 495.74L110.52 493.65L114.01 493.61zM132.06 548.50L133.17 551.81L136.67 551.85L133.87 553.94L134.91 557.27L132.06 555.25L129.21 557.27L130.25 553.94L127.45 551.85L130.94 551.81zM148.99 547.20L150.10 550.51L153.60 550.55L150.79 552.64L151.84 555.97L148.99 553.95L146.14 555.97L147.18 552.64L144.37 550.55L147.87 550.51zM165.92 558.70L167.03 562.01L170.53 562.05L167.72 564.14L168.77 567.47L165.92 565.45L163.07 567.47L164.11 564.14L161.30 562.05L164.80 562.01zM182.85 547.70L183.96 551.01L187.46 551.05L184.65 553.14L185.70 556.47L182.85 554.45L179.99 556.47L181.04 553.14L178.23 551.05L181.73 551.01zM199.77 556.20L200.89 559.51L204.39 559.55L201.58 561.64L202.62 564.97L199.77 562.95L196.92 564.97L197.97 561.64L195.16 559.55L198.66 559.51zM216.70 539.50L217.82 542.81L221.32 542.85L218.51 544.94L219.55 548.27L216.70 546.25L213.85 548.27L214.90 544.94L212.09 542.85L215.59 542.81zM233.63 534.30L234.75 537.61L238.24 537.65L235.44 539.74L236.48 543.07L233.63 541.05L230.78 543.07L231.83 539.74L229.02 537.65L232.52 537.61zM250.56 523.30L251.68 526.61L255.17 526.65L252.37 528.74L253.41 532.07L250.56 530.05L247.71 532.07L248.75 528.74L245.95 526.65L249.44 526.61zM267.49 516.80L268.61 520.11L272.10 520.15L269.30 522.24L270.34 525.57L267.49 523.55L264.64 525.57L265.68 522.24L262.88 520.15L266.37 520.11zM284.42 530.50L285.54 533.81L289.03 533.85L286.23 535.94L287.27 539.27L284.42 537.25L281.57 539.27L282.61 535.94L279.81 533.85L283.30 533.81zM301.35 512.20L302.47 515.51L305.96 515.55L303.16 517.64L304.20 520.97L301.35 518.95L298.50 520.97L299.54 517.64L296.74 515.55L300.23 515.51zM318.28 530.20L319.39 533.51L322.89 533.55L320.08 535.64L321.13 538.97L318.28 536.95L315.43 538.97L316.47 535.64L313.66 533.55L317.16 533.51zM335.21 492.40L336.32 495.71L339.82 495.75L337.01 497.84L338.06 501.17L335.21 499.15L332.36 501.17L333.40 497.84L330.59 495.75L334.09 495.71zM352.14 545.10L353.25 548.41L356.75 548.45L353.94 550.54L354.99 553.87L352.14 551.85L349.28 553.87L350.33 550.54L347.52 548.45L351.02 548.41zM369.06 536.10L370.18 539.41L373.68 539.45L370.87 541.54L371.92 544.87L369.06 542.85L366.21 544.87L367.26 541.54L364.45 539.45L367.95 539.41zM385.99 569.00L387.11 572.31L390.61 572.35L387.80 574.44L388.84 577.77L385.99 575.75L383.14 577.77L384.19 574.44L381.38 572.35L384.88 572.31zM402.92 542.50L404.04 545.81L407.54 545.85L404.73 547.94L405.77 551.27L402.92 549.25L400.07 551.27L401.12 547.94L398.31 545.85L401.81 545.81zM419.85 561.80L420.97 565.11L424.46 565.15L421.66 567.24L422.70 570.57L419.85 568.55L417.00 570.57L418.04 567.24L415.24 565.15L418.73 565.11zM436.78 563.10L437.90 566.41L441.39 566.45L438.59 568.54L439.63 571.87L436.78 569.85L433.93 571.87L434.97 568.54L432.17 566.45L435.66 566.41zM453.71 572.90L454.83 576.21L458.32 576.25L455.52 578.34L456.56 581.67L453.71 579.65L450.86 581.67L451.90 578.34L449.10 576.25L452.59 576.21zM470.64 535.30L471.76 538.61L475.25 538.65L472.45 540.74L473.49 544.07L470.64 542.05L467.79 544.07L468.83 540.74L466.03 538.65L469.52 538.61zM487.57 542.50L488.68 545.81L492.18 545.85L489.37 547.94L490.42 551.27L487.57 549.25L484.72 551.27L485.76 547.94L482.96 545.85L486.45 545.81zM504.50 536.60L505.61 539.91L509.11 539.95L506.30 542.04L507.35 545.37L504.50 543.35L501.65 545.37L502.69 542.04L499.88 539.95L503.38 539.91zM521.43 561.10L522.54 564.41L526.04 564.45L523.23 566.54L524.28 569.87L521.43 567.85L518.58 569.87L519.62 566.54L516.81 564.45L520.31 564.41zM538.35 536.60L539.47 539.91L542.97 539.95L540.16 542.04L541.21 545.37L538.35 543.35L535.50 545.37L536.55 542.04L533.74 539.95L537.24 539.91zM555.28 534.30L556.40 537.61L559.90 537.65L557.09 539.74L558.13 543.07L555.28 541.05L552.43 543.07L553.48 539.74L550.67 537.65L554.17 537.61zM572.21 562.30L573.33 565.61L576.83 565.65L574.02 567.74L575.06 571.07L572.21 569.05L569.36 571.07L570.41 567.74L567.60 565.65L571.10 565.61zM589.14 545.90L590.26 549.21L593.75 549.25L590.95 551.34L591.99 554.67L589.14 552.65L586.29 554.67L587.33 551.34L584.53 549.25L588.03 549.21zM606.07 545.90L607.19 549.21L610.68 549.25L607.88 551.34L608.92 554.67L606.07 552.65L603.22 554.67L604.26 551.34L601.46 549.25L604.95 549.21z" fill="#fff" stroke="#000" stroke-width="1.05" stroke-linejoin="miter" stroke-miterlimit="1.6"/>
<text transform="translate(87.4 22.7) scale(1 1.080)" text-anchor="end" font-size="22.0" >50</text>
<text transform="translate(87.4 100.8) scale(1 1.080)" text-anchor="end" font-size="22.0" >40</text>
<text transform="translate(87.4 178.8) scale(1 1.080)" text-anchor="end" font-size="22.0" >30</text>
<text transform="translate(87.4 256.9) scale(1 1.080)" text-anchor="end" font-size="22.0" >20</text>
<text transform="translate(87.4 334.9) scale(1 1.080)" text-anchor="end" font-size="22.0" >10</text>
<text transform="translate(87.4 412.9) scale(1 1.080)" text-anchor="end" font-size="22.0" >0</text>
<text transform="translate(633.1 22.7) scale(1 1.080)" text-anchor="start" font-size="22.0" >100</text>
<text transform="translate(633.1 100.8) scale(1 1.080)" text-anchor="start" font-size="22.0" >80</text>
<text transform="translate(633.1 178.8) scale(1 1.080)" text-anchor="start" font-size="22.0" >60</text>
<text transform="translate(633.1 256.9) scale(1 1.080)" text-anchor="start" font-size="22.0" >40</text>
<text transform="translate(633.1 334.9) scale(1 1.080)" text-anchor="start" font-size="22.0" >20</text>
<text transform="translate(633.1 412.9) scale(1 1.080)" text-anchor="start" font-size="22.0" >0</text>
<text transform="translate(59.4 464.9) scale(1 1.080)" text-anchor="start" font-size="22.0" letter-spacing="-0.7">0.4</text>
<text transform="translate(59.4 542.7) scale(1 1.080)" text-anchor="start" font-size="22.0" letter-spacing="-0.7">0.3</text>
<text transform="translate(59.4 620.5) scale(1 1.080)" text-anchor="start" font-size="22.0" letter-spacing="-0.7">0.2</text>
<text transform="translate(59.4 698.4) scale(1 1.080)" text-anchor="start" font-size="22.0" letter-spacing="-0.7">0.1</text>
<text transform="translate(87.4 776.2) scale(1 1.080)" text-anchor="end" font-size="22.0" >0</text>
<text transform="translate(631.3 464.9) scale(1 1.080)" text-anchor="start" font-size="22.0" >80</text>
<text transform="translate(631.3 542.7) scale(1 1.080)" text-anchor="start" font-size="22.0" >60</text>
<text transform="translate(631.3 620.5) scale(1 1.080)" text-anchor="start" font-size="22.0" >40</text>
<text transform="translate(631.3 698.4) scale(1 1.080)" text-anchor="start" font-size="22.0" >20</text>
<text transform="translate(631.3 776.2) scale(1 1.080)" text-anchor="start" font-size="22.0" >0</text>
<text transform="translate(99.2 436.0) scale(1 1.080)" text-anchor="middle" font-size="22.0" >0</text>
<text transform="translate(99.2 797.0) scale(1 1.080)" text-anchor="middle" font-size="22.0" >0</text>
<text transform="translate(182.2 436.0) scale(1 1.080)" text-anchor="middle" font-size="22.0" >5</text>
<text transform="translate(182.0 797.0) scale(1 1.080)" text-anchor="middle" font-size="22.0" >5</text>
<text transform="translate(267.9 436.0) scale(1 1.080)" text-anchor="middle" font-size="22.0" >10</text>
<text transform="translate(267.5 797.0) scale(1 1.080)" text-anchor="middle" font-size="22.0" >10</text>
<text transform="translate(350.2 436.0) scale(1 1.080)" text-anchor="middle" font-size="22.0" >15</text>
<text transform="translate(350.1 797.0) scale(1 1.080)" text-anchor="middle" font-size="22.0" >15</text>
<text transform="translate(435.2 436.0) scale(1 1.080)" text-anchor="middle" font-size="22.0" >20</text>
<text transform="translate(434.9 797.0) scale(1 1.080)" text-anchor="middle" font-size="22.0" >20</text>
<text transform="translate(521.5 436.0) scale(1 1.080)" text-anchor="middle" font-size="22.0" >25</text>
<text transform="translate(520.9 797.0) scale(1 1.080)" text-anchor="middle" font-size="22.0" >25</text>
<text transform="translate(606.1 436.0) scale(1 1.080)" text-anchor="middle" font-size="22.0" >30</text>
<text transform="translate(605.4 797.0) scale(1 1.080)" text-anchor="middle" font-size="22.0" >30</text>
<text transform="translate(121.6 369.6) scale(1 1.080)" text-anchor="start" font-size="22.0" >(a) COD</text>
<text transform="translate(122.0 745.2) scale(1 1.080)" font-size="22">(b) UV<tspan font-size="14.4" dy="2.4">254</tspan></text>
<g transform="translate(33.6 259.3) rotate(-90) scale(1 1.06)"><text x="0" y="0" font-size="22">COD/mg<tspan dx="-1.7">·</tspan><tspan dx="-1.8">L</tspan><tspan font-size="14.7" dy="-8.5">−1</tspan></text></g>
<g transform="translate(34.6 651.6) rotate(-90) scale(1 1.06)"><text x="0" y="0" font-size="22">UV<tspan font-size="14.7" dy="2.6">254</tspan><tspan dy="-2.6">/cm</tspan><tspan font-size="14.7" dy="-8.5">−1</tspan></text></g>
<g transform="translate(683.0 256.3) rotate(-90)"><text x="0" y="0" font-size="21.3" font-weight="bold">去除率</text><text transform="translate(64.9 0) scale(1 1.06)" font-size="22">/%</text></g>
<g transform="translate(683.0 654.4) rotate(-90)"><text x="0" y="0" font-size="21.3" font-weight="bold">去除率</text><text transform="translate(64.9 0) scale(1 1.06)" font-size="22">/%</text></g>
<text x="332.2" y="827.0" font-size="21" font-weight="bold">时间</text><text transform="translate(373.6 825.6) scale(1 1.080)" text-anchor="start" font-size="22.0" >/d</text>
<path d="M338.4 290.4H380.0" stroke="#000" stroke-width="1.7"/>
<path d="M360.00 285.80L361.12 289.11L364.61 289.15L361.81 291.24L362.85 294.57L360.00 292.55L357.15 294.57L358.19 291.24L355.39 289.15L358.88 289.11z" fill="#fff" stroke="#000" stroke-width="1.05" stroke-miterlimit="1.6"/>
<path d="M337.6 314.0H379.2" stroke="#000" stroke-width="1.7"/>
<path d="M354.4 309.7h8.6v8.6h-8.6z"/>
<path d="M337.6 337.4H379.2" stroke="#000" stroke-width="1.7"/>
<path d="M353.5 337.4a4.9 4.9 0 1 0 9.8 0a4.9 4.9 0 1 0 -9.8 0z"/>
<path d="M337.6 364.4H379.2" stroke="#000" stroke-width="1.7"/>
<path d="M358.3 357.7L364.1 367.7L352.5 367.7z"/>
<path d="M340.4 392.4H382.4" stroke="#000" stroke-width="1.7"/>
<path d="M361.3 399.1L367.1 389.1L355.5 389.1z"/>
<text transform="translate(391.6 297.0) scale(1 1.080)" font-size="22">O<tspan font-size="15.7" dy="2.8">3</tspan></text>
<text transform="translate(416.2 297.0) scale(1 1.080)" text-anchor="start" font-size="22.0" >+</text>
<text transform="translate(434.3 297.0) scale(1 1.080)" text-anchor="start" font-size="22.0" >BAC</text>
<text x="480.5" y="298.3" font-size="21.4" font-weight="bold">工艺去除率</text>
<text x="391.9" y="321.2" font-size="21.4" font-weight="bold">进水</text>
<text transform="translate(391.6 344.4) scale(1 1.080)" font-size="22">O<tspan font-size="15.7" dy="2.8">3</tspan></text>
<text x="414.2" y="346.0" font-size="21.6" font-weight="bold">单元出水</text>
<text transform="translate(391.6 371.0) scale(1 1.080)" font-size="22">O<tspan font-size="15.7" dy="2.8">3</tspan></text>
<text transform="translate(417.0 371.0) scale(1 1.080)" text-anchor="start" font-size="22.0" >+</text>
<text transform="translate(436.3 371.0) scale(1 1.080)" text-anchor="start" font-size="22.0" >BAC</text>
<text x="480.8" y="371.6" font-size="21.4" font-weight="bold">出水</text>
<text transform="translate(392.8 398.0) scale(1 1.080)" text-anchor="start" font-size="22.0" >BAC</text>
<text x="437.2" y="398.4" font-size="21.4" font-weight="bold">出水</text>
</svg>
</body></html>
